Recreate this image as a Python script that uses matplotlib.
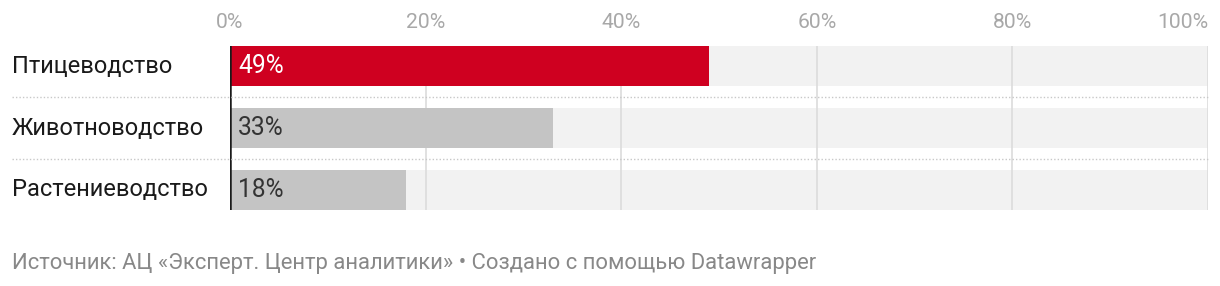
import matplotlib.pyplot as plt
from matplotlib.lines import Line2D

plt.rcParams['font.family'] = ['Roboto', 'DejaVu Sans']

categories = ["Птицеводство", "Животноводство", "Растениеводство"]
values = [49, 33, 18]
bar_colors = ["#cf0020", "#c4c4c4", "#c4c4c4"]
label_colors = ["#ffffff", "#333333", "#333333"]
ticks = [0, 20, 40, 60, 80, 100]
tick_labels = ["0%", "20%", "40%", "60%", "80%", "100%"]
footer = "Источник: АЦ «Эксперт. Центр аналитики» • Создано с помощью Datawrapper"

W, H = 1220, 286
fig = plt.figure(figsize=(W / 100, H / 100), dpi=100)
fig.patch.set_facecolor("white")

# axes in pixel terms: x 230..1208, y 46..210
ax = fig.add_axes([230 / W, 1 - 210 / H, 978 / W, 164 / H])
bh = 40 / 62
half = bh / 2
ys = list(range(len(categories)))

ax.set_xlim(0, 100)
ax.set_ylim(len(categories) - 1 + half, -half)

# background bars
ax.barh(ys, [100] * len(ys), height=bh, color="#f2f2f2", zorder=0)
# gridlines
for t in ticks[1:]:
    ax.axvline(t, color="#dcdcdc", lw=1.2, zorder=1)
ax.barh(ys, values, height=bh, color=bar_colors, zorder=2)
ax.axvline(0, color="#1a1a1a", lw=1.8, zorder=3)

for y, v, c in zip(ys, values, label_colors):
    ax.text(0.85, y, f"{v}%", color=c, fontsize=17.7, va="center", ha="left", zorder=4)

for s in ax.spines.values():
    s.set_visible(False)
ax.set_yticks([])
ax.xaxis.tick_top()
ax.set_xticks(ticks)
ax.set_xticklabels(tick_labels)
ax.tick_params(axis="x", length=0, pad=10, labelsize=15.2, labelcolor="#a8a8a8")
lbls = ax.get_xticklabels()
lbls[-1].set_horizontalalignment("right")

# category labels
for y, name in zip(ys, categories):
    yp = ax.transData.transform((0, y))[1] / H
    fig.text(12 / W, yp, name, fontsize=17, color="#1a1a1a", va="center", ha="left")

# dotted separators between rows
for k in range(len(categories) - 1):
    ymid = ax.transData.transform((0, k + 0.5))[1] / H
    fig.add_artist(Line2D([12 / W, 1208 / W], [ymid, ymid], color="#c8c8c8",
                          lw=1, linestyle=(0, (1, 1.5)), transform=fig.transFigure))

fig.text(12 / W, 1 - 264 / H, footer, fontsize=15.8, color="#888888", va="center", ha="left")

fig.savefig("out.png", dpi=100)
